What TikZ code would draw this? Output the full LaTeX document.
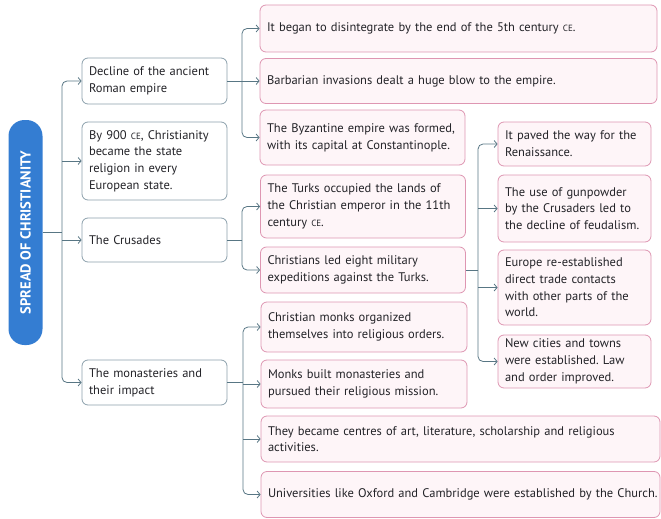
\documentclass[tikz,border=0pt]{standalone}
\usepackage{fontspec}
\setmainfont{PT Sans}
\usetikzlibrary{arrows.meta}
\frenchspacing
\hbadness=10000 \hfuzz=50pt
\definecolor{titleblue}{RGB}{52,125,210}
\definecolor{lvlborder}{RGB}{140,160,172}
\definecolor{pinkborder}{RGB}{222,150,178}
\definecolor{pinkfill}{RGB}{254,245,248}
\definecolor{conncol}{RGB}{88,118,132}
\definecolor{txt}{RGB}{35,35,40}
\newcommand{\CEsc}{{\fontsize{9}{9}\selectfont CE}}
\tikzset{
  base/.style={rounded corners=6pt, line width=0.8pt, align=left, inner xsep=7pt, inner ysep=0pt,
    font=\fontsize{12.5}{16.7}\selectfont, text=txt},
  lbox/.style={base, draw=lvlborder, fill=white, minimum width=145pt, text width=131pt},
  pbox/.style={base, draw=pinkborder, fill=pinkfill},
  conn/.style={draw=conncol, line width=0.8pt, rounded corners=5pt},
  arr/.style={conn, -{Straight Barb[length=3pt,width=7pt]}},
}
\begin{document}
\begin{tikzpicture}[x=1pt,y=-1pt]
\useasboundingbox (0,0) rectangle (661,519);
% title
\node[fill=titleblue, rounded corners=16pt, minimum width=225pt, minimum height=34pt, rotate=90,
  text=white, font=\fontsize{14.5}{16}\selectfont\bfseries, inner sep=0pt] (T) at (25.5,232.5) {SPREAD OF CHRISTIANITY};
% level 1
\node[lbox, minimum height=46pt] (L1) at (154.5,81) {Decline of the ancient\\Roman empire};
\node[lbox, minimum height=78pt] (L2) at (154.5,161) {By 900 \CEsc, Christianity\\became the state\\religion in every\\European state.};
\node[lbox, minimum height=44pt] (L3) at (154.5,240) {The Crusades};
\node[lbox, minimum height=45pt] (L4) at (154.5,382.5) {The monasteries and\\their impact};
% level 2: decline
\node[pbox, minimum width=397pt, text width=383pt, minimum height=47pt] (P1) at (458.5,28.5) {It began to disintegrate by the end of the 5th century \CEsc.};
\node[pbox, minimum width=397pt, text width=383pt, minimum height=45pt] (P2) at (458.5,81) {Barbarian invasions dealt a huge blow to the empire.};
\node[pbox, minimum width=205pt, text width=191pt, minimum height=55pt] (P3) at (362.5,137.5) {\mbox{The Byzantine empire was formed,}\\\mbox{with its capital at Constantinople.}};
% crusades
\node[pbox, minimum width=205pt, text width=191pt, minimum height=63pt] (P4) at (363,206.5) {The Turks occupied the lands of\\\mbox{the Christian emperor in the 11th}\\century \CEsc.};
\node[pbox, minimum width=205pt, text width=191pt, minimum height=46pt] (P5) at (363,270) {Christians led eight military\\expeditions against the Turks.};
% results
\node[pbox, minimum width=153pt, text width=139pt, minimum height=44pt] (R1) at (574.5,144) {It paved the way for the\\Renaissance.};
\node[pbox, minimum width=153pt, text width=139pt, minimum height=67pt] (R2) at (574.5,208.5) {The use of gunpowder\\by the Crusaders led to\\\mbox{the decline of feudalism.}};
\node[pbox, minimum width=153pt, text width=139pt, minimum height=75pt] (R3) at (574.5,287.5) {Europe re-established\\direct trade contacts\\with other parts of the\\world.};
\node[pbox, minimum width=153pt, text width=139pt, minimum height=53pt] (R4) at (574.5,361.5) {New cities and towns\\were established. Law\\and order improved.};
% monasteries
\node[pbox, minimum width=206pt, text width=192pt, minimum height=50pt] (M1) at (364,327) {Christian monks organized\\\mbox{themselves into religious orders.}};
\node[pbox, minimum width=206pt, text width=192pt, minimum height=48pt] (M2) at (364,384) {Monks built monasteries and\\\mbox{pursued their religious mission.}};
\node[pbox, minimum width=399pt, text width=385pt, minimum height=46pt] (M3) at (460.5,439) {\mbox{They became centres of art, literature, scholarship and religious}\\activities.};
\node[pbox, minimum width=399pt, text width=385pt, minimum height=46pt] (M4) at (460.5,494.5) {\mbox{Universities like Oxford and Cambridge were established by the Church.}};
% connectors: title
\coordinate (t0) at (62,232.5);
\draw[conn] (T.south) -- (t0);
\draw[arr] (t0) |- (L1.west);
\draw[arr] (t0) |- (L4.west);
\draw[arr] (t0 |- L2.west) -- (L2.west);
\draw[arr] (t0 |- L3.west) -- (L3.west);
% decline
\coordinate (d0) at (242,81);
\draw[conn] (L1.east) -- (d0);
\draw[arr] (d0) |- (P1.west);
\draw[arr] (d0) |- (P3.west);
\draw[arr] (d0) -- (P2.west);
% crusades
\coordinate (c0) at (242,240);
\draw[conn] (L3.east) -- (c0);
\draw[arr] (c0) |- (P4.west);
\draw[arr] (c0) |- (P5.west);
% results
\coordinate (r0) at (478,270);
\draw[conn] (P5.east) -- (r0);
\draw[arr] (r0) |- (R1.west);
\draw[arr] (r0) |- (R4.west);
\draw[arr] (r0 |- R2.west) -- (R2.west);
\draw[arr] (r0 |- R3.west) -- (R3.west);
% monasteries
\coordinate (m0) at (243,382.5);
\draw[conn] (L4.east) -- (m0);
\draw[arr] (m0) |- (M1.west);
\draw[arr] (m0) |- (M4.west);
\draw[arr] (m0 |- M2.west) -- (M2.west);
\draw[arr] (m0 |- M3.west) -- (M3.west);
\end{tikzpicture}
\end{document}
